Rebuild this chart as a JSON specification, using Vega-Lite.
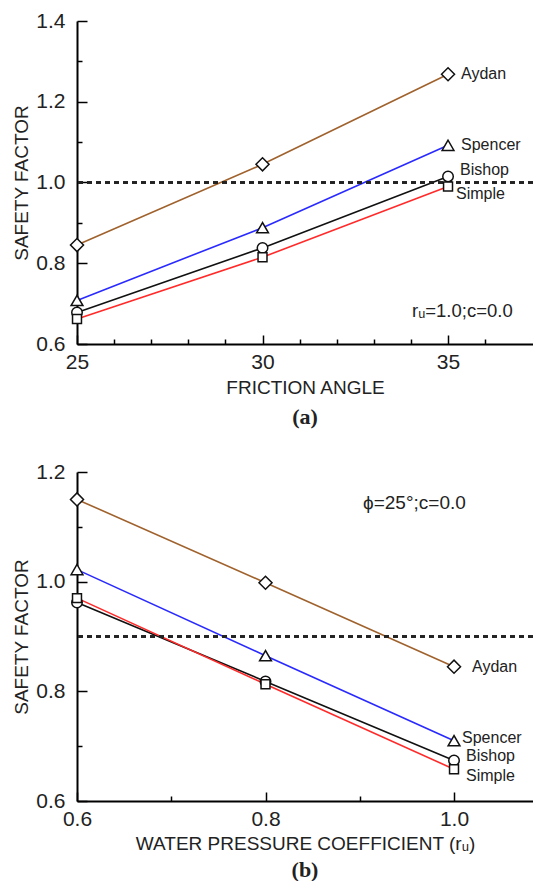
{
  "$schema": "https://vega.github.io/schema/vega-lite/v6.json",
  "background": "white",
  "padding": {"left": 12, "top": 10, "right": 0, "bottom": 0},
  "spacing": 33,
  "datasets": {
    "a": [
      {"method": "Aydan", "x": 25, "sf": 0.845},
      {"method": "Aydan", "x": 30, "sf": 1.045},
      {"method": "Aydan", "x": 35, "sf": 1.268},
      {"method": "Spencer", "x": 25, "sf": 0.708},
      {"method": "Spencer", "x": 30, "sf": 0.888},
      {"method": "Spencer", "x": 35, "sf": 1.092},
      {"method": "Bishop", "x": 25, "sf": 0.678},
      {"method": "Bishop", "x": 30, "sf": 0.838},
      {"method": "Bishop", "x": 35, "sf": 1.015},
      {"method": "Simple", "x": 25, "sf": 0.662},
      {"method": "Simple", "x": 30, "sf": 0.815},
      {"method": "Simple", "x": 35, "sf": 0.99}
    ],
    "b": [
      {"method": "Aydan", "x": 0.6, "sf": 1.15},
      {"method": "Aydan", "x": 0.8, "sf": 0.998},
      {"method": "Aydan", "x": 1.0, "sf": 0.845},
      {"method": "Spencer", "x": 0.6, "sf": 1.022},
      {"method": "Spencer", "x": 0.8, "sf": 0.865},
      {"method": "Spencer", "x": 1.0, "sf": 0.71},
      {"method": "Bishop", "x": 0.6, "sf": 0.962},
      {"method": "Bishop", "x": 0.8, "sf": 0.818},
      {"method": "Bishop", "x": 1.0, "sf": 0.674},
      {"method": "Simple", "x": 0.6, "sf": 0.97},
      {"method": "Simple", "x": 0.8, "sf": 0.813},
      {"method": "Simple", "x": 1.0, "sf": 0.658}
    ],
    "noteA": [{"x": 34.03, "sf": 0.682, "text": "rᵤ=1.0;c=0.0"}],
    "noteB": [{"x": 0.9035, "sf": 1.144, "text": "ϕ=25°;c=0.0"}]
  },
  "config": {
    "view": {"stroke": null},
    "font": "Liberation Sans",
    "axis": {
      "domainColor": "black",
      "domainWidth": 2,
      "tickColor": "black",
      "tickWidth": 1.5,
      "labelColor": "#222",
      "titleColor": "#222",
      "labelFont": "Liberation Sans",
      "titleFont": "Liberation Sans",
      "labelFontSize": 21,
      "titleFontSize": 19,
      "titleFontWeight": "normal",
      "labelFlush": false,
      "labelOverlap": false,
      "grid": false
    },
    "title": {"font": "Liberation Serif", "fontSize": 22, "fontWeight": "bold", "color": "#222"}
  },
  "vconcat": [
    {
      "width": 456,
      "height": 323,
      "title": {"text": "(a)", "orient": "bottom", "anchor": "middle", "offset": 10},
      "layer": [
        {
          "data": {"name": "a"},
          "mark": {"type": "line", "strokeWidth": 1.6},
          "encoding": {
            "x": {
              "field": "x", "type": "quantitative",
              "scale": {"domain": [25, 37.29], "nice": false, "zero": false},
              "axis": {
                "title": "FRICTION ANGLE",
                "values": [25, 26, 27, 28, 29, 30, 31, 32, 33, 34, 35, 36],
                "labelExpr": "datum.value % 5 === 0 ? datum.label : ''",
                "tickSize": {"condition": {"test": "datum.value % 5 === 0", "value": -9}, "value": -5},
                "labelPadding": 16,
                "titlePadding": 2
              }
            },
            "y": {
              "field": "sf", "type": "quantitative",
              "scale": {"domain": [0.6, 1.4], "nice": false, "zero": false},
              "axis": {
                "title": "SAFETY FACTOR",
                "values": [0.6, 0.7, 0.8, 0.9, 1.0, 1.1, 1.2, 1.3, 1.4],
                "labelExpr": "round(datum.value * 10) % 2 === 0 ? format(datum.value, '.1f') : ''",
                "tickSize": {"condition": {"test": "round(datum.value * 10) % 2 === 0", "value": -10}, "value": -5},
                "labelPadding": 22,
                "titlePadding": 4
              }
            },
            "color": {
              "field": "method", "type": "nominal",
              "scale": {"domain": ["Aydan", "Spencer", "Bishop", "Simple"], "range": ["#a0622d", "#2a2aff", "#111111", "#ff2a2a"]},
              "legend": null
            }
          }
        },
        {
          "data": {"name": "a"},
          "mark": {"type": "rule", "strokeDash": [5, 4], "strokeWidth": 1.3, "color": "#222"},
          "encoding": {"y": {"datum": 1.0}}
        },
        {
          "data": {"name": "a"},
          "mark": {"type": "point", "filled": true, "fill": "white", "stroke": "#111", "strokeWidth": 1.5, "opacity": 1},
          "encoding": {
            "x": {"field": "x", "type": "quantitative"},
            "y": {"field": "sf", "type": "quantitative"},
            "shape": {
              "field": "method", "type": "nominal",
              "scale": {"domain": ["Aydan", "Spencer", "Bishop", "Simple"], "range": ["diamond", "triangle-up", "circle", "square"]},
              "legend": null
            },
            "size": {
              "field": "method", "type": "nominal",
              "scale": {"domain": ["Aydan", "Spencer", "Bishop", "Simple"], "range": [170, 80, 70, 70]},
              "legend": null
            }
          }
        },
        {
          "data": {"name": "a"},
          "transform": [{"filter": "datum.x === 35 && (datum.method === 'Aydan' || datum.method === 'Spencer')"}],
          "mark": {"type": "text", "align": "left", "baseline": "middle", "dx": 13, "fontSize": 16, "color": "#222"},
          "encoding": {
            "x": {"field": "x", "type": "quantitative"},
            "y": {"field": "sf", "type": "quantitative"},
            "text": {"field": "method"}
          }
        },
        {
          "data": {"name": "a"},
          "transform": [{"filter": "datum.x === 35 && datum.method === 'Bishop'"}],
          "mark": {"type": "text", "align": "left", "baseline": "middle", "dx": 12, "dy": -6, "fontSize": 16, "color": "#222"},
          "encoding": {
            "x": {"field": "x", "type": "quantitative"},
            "y": {"field": "sf", "type": "quantitative"},
            "text": {"field": "method"}
          }
        },
        {
          "data": {"name": "a"},
          "transform": [{"filter": "datum.x === 35 && datum.method === 'Simple'"}],
          "mark": {"type": "text", "align": "left", "baseline": "middle", "dx": 8, "dy": 7, "fontSize": 16, "color": "#222"},
          "encoding": {
            "x": {"field": "x", "type": "quantitative"},
            "y": {"field": "sf", "type": "quantitative"},
            "text": {"field": "method"}
          }
        },
        {
          "data": {"name": "noteA"},
          "mark": {"type": "text", "align": "left", "baseline": "middle", "fontSize": 18.5, "color": "#222"},
          "encoding": {
            "x": {"field": "x", "type": "quantitative"},
            "y": {"field": "sf", "type": "quantitative"},
            "text": {"field": "text"}
          }
        }
      ]
    },
    {
      "width": 456,
      "height": 329,
      "title": {"text": "(b)", "orient": "bottom", "anchor": "middle", "offset": 7},
      "layer": [
        {
          "data": {"name": "b"},
          "mark": {"type": "line", "strokeWidth": 1.6},
          "encoding": {
            "x": {
              "field": "x", "type": "quantitative",
              "scale": {"domain": [0.6, 1.0838], "nice": false, "zero": false},
              "axis": {
                "title": "WATER PRESSURE COEFFICIENT (rᵤ)",
                "values": [0.6, 0.7, 0.8, 0.9, 1.0],
                "labelExpr": "round(datum.value * 10) % 2 === 0 ? format(datum.value, '.1f') : ''",
                "tickSize": {"condition": {"test": "round(datum.value * 10) % 2 === 0", "value": -9}, "value": -5},
                "labelPadding": 16,
                "titlePadding": 1
              }
            },
            "y": {
              "field": "sf", "type": "quantitative",
              "scale": {"domain": [0.6, 1.2], "nice": false, "zero": false},
              "axis": {
                "title": "SAFETY FACTOR",
                "values": [0.6, 0.7, 0.8, 0.9, 1.0, 1.1, 1.2],
                "labelExpr": "round(datum.value * 10) % 2 === 0 ? format(datum.value, '.1f') : ''",
                "tickSize": {"condition": {"test": "round(datum.value * 10) % 2 === 0", "value": -10}, "value": -5},
                "labelPadding": 22,
                "titlePadding": 4
              }
            },
            "color": {
              "field": "method", "type": "nominal",
              "scale": {"domain": ["Aydan", "Spencer", "Bishop", "Simple"], "range": ["#a0622d", "#2a2aff", "#111111", "#ff2a2a"]},
              "legend": null
            }
          }
        },
        {
          "data": {"name": "b"},
          "mark": {"type": "rule", "strokeDash": [5, 4], "strokeWidth": 1.3, "color": "#222"},
          "encoding": {"y": {"datum": 0.9}}
        },
        {
          "data": {"name": "b"},
          "mark": {"type": "point", "filled": true, "fill": "white", "stroke": "#111", "strokeWidth": 1.5, "opacity": 1},
          "encoding": {
            "x": {"field": "x", "type": "quantitative"},
            "y": {"field": "sf", "type": "quantitative"},
            "shape": {
              "field": "method", "type": "nominal",
              "scale": {"domain": ["Aydan", "Spencer", "Bishop", "Simple"], "range": ["diamond", "triangle-up", "circle", "square"]},
              "legend": null
            },
            "size": {
              "field": "method", "type": "nominal",
              "scale": {"domain": ["Aydan", "Spencer", "Bishop", "Simple"], "range": [170, 80, 70, 70]},
              "legend": null
            }
          }
        },
        {
          "data": {"name": "b"},
          "transform": [{"filter": "datum.x === 1.0 && datum.method === 'Aydan'"}],
          "mark": {"type": "text", "align": "left", "baseline": "middle", "dx": 18, "fontSize": 16, "color": "#222"},
          "encoding": {
            "x": {"field": "x", "type": "quantitative"},
            "y": {"field": "sf", "type": "quantitative"},
            "text": {"field": "method"}
          }
        },
        {
          "data": {"name": "b"},
          "transform": [{"filter": "datum.x === 1.0 && datum.method === 'Spencer'"}],
          "mark": {"type": "text", "align": "left", "baseline": "middle", "dx": 8, "dy": -3, "fontSize": 16, "color": "#222"},
          "encoding": {
            "x": {"field": "x", "type": "quantitative"},
            "y": {"field": "sf", "type": "quantitative"},
            "text": {"field": "method"}
          }
        },
        {
          "data": {"name": "b"},
          "transform": [{"filter": "datum.x === 1.0 && datum.method === 'Bishop'"}],
          "mark": {"type": "text", "align": "left", "baseline": "middle", "dx": 12, "dy": -4, "fontSize": 16, "color": "#222"},
          "encoding": {
            "x": {"field": "x", "type": "quantitative"},
            "y": {"field": "sf", "type": "quantitative"},
            "text": {"field": "method"}
          }
        },
        {
          "data": {"name": "b"},
          "transform": [{"filter": "datum.x === 1.0 && datum.method === 'Simple'"}],
          "mark": {"type": "text", "align": "left", "baseline": "middle", "dx": 12, "dy": 7, "fontSize": 16, "color": "#222"},
          "encoding": {
            "x": {"field": "x", "type": "quantitative"},
            "y": {"field": "sf", "type": "quantitative"},
            "text": {"field": "method"}
          }
        },
        {
          "data": {"name": "noteB"},
          "mark": {"type": "text", "align": "left", "baseline": "middle", "fontSize": 19, "color": "#222"},
          "encoding": {
            "x": {"field": "x", "type": "quantitative"},
            "y": {"field": "sf", "type": "quantitative"},
            "text": {"field": "text"}
          }
        }
      ]
    }
  ]
}
